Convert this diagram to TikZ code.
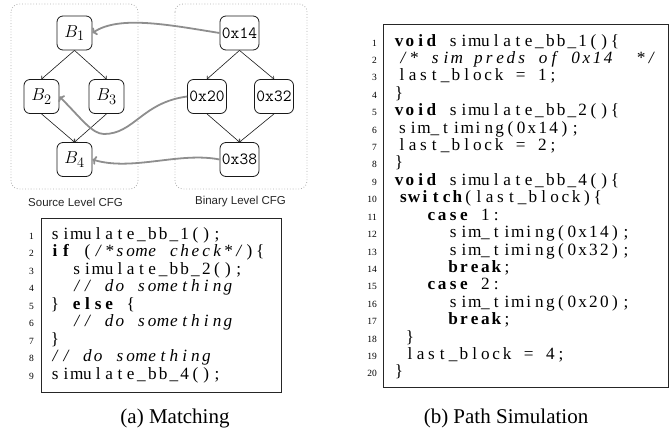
\documentclass[tikz,border=0pt]{standalone}
\usepackage[no-math]{fontspec}
\setmainfont{Liberation Serif}
\newfontfamily\cfgsans{Liberation Sans}
\usetikzlibrary{arrows.meta}

\definecolor{mapgray}{RGB}{142,142,142}
\definecolor{boxgray}{RGB}{175,175,175}

% fixed-column code setting: every character gets a box of width \colw
\newlength\colw
\setlength\colw{10.8pt}
\makeatletter
\def\cc#1{\cc@loop#1\cc@stop}
\def\cc@loop#1{\ifx#1\cc@stop\else\hbox to\colw{\hss#1\hss}\expandafter\cc@loop\fi}
\def\cc@stop{\cc@stop@mark}
\makeatother
\newcommand\kw[1]{{\bfseries\cc{#1}}}
\newcommand\cm[1]{{\itshape\cc{#1}}}

\begin{document}
\begin{tikzpicture}[x=1pt,y=-1pt,
  blk/.style={draw=black!90, line width=0.8pt, rounded corners=6pt,
    minimum width=35pt, minimum height=34pt, inner sep=0pt,
    font=\fontsize{19}{22}\selectfont},
  hexblk/.style={blk, minimum width=39pt, font=\fontsize{17}{20}\selectfont\ttfamily},
  flow/.style={-{To[length=2.6pt,width=5pt]}, line width=0.6pt, draw=black!90},
  map/.style={-{To[length=4pt,width=9pt]}, line width=1.8pt, draw=mapgray},
  region/.style={draw=boxgray, dotted, line width=0.8pt, rounded corners=8pt},
  cfglabel/.style={font=\fontsize{11.5}{13}\selectfont\cfgsans, text=black!85, inner sep=0pt},
  codeln/.style={anchor=base west, inner sep=0pt, font=\fontsize{17.2}{19}\selectfont},
  lnum/.style={anchor=base east, inner sep=0pt, font=\fontsize{9.5}{11}\selectfont},
  codebox/.style={draw=black!85, line width=0.9pt},
  subcap/.style={font=\fontsize{21}{24}\selectfont, inner sep=0pt}
]
\useasboundingbox (0,0) rectangle (672,432);

% ---------- control-flow graphs ----------
\draw[region] (11,4) rectangle (138,189);
\draw[region] (175,4) rectangle (307,189);

\node[blk] (b1) at (74.5,33) {$B_1$};
\node[blk] (b2) at (41.5,96.5) {$B_2$};
\node[blk] (b3) at (106.5,96.5) {$B_3$};
\node[blk] (b4) at (74.5,159.5) {$B_4$};

\node[hexblk] (h14) at (239.5,33) {0x14};
\node[hexblk] (h20) at (207,96.5) {0x20};
\node[hexblk] (h32) at (274,96.5) {0x32};
\node[hexblk] (h38) at (239.5,159.5) {0x38};

\draw[flow] (b1.south) -- (b2.north);
\draw[flow] (b1.south) -- (b3.north);
\draw[flow] (b2.south) -- (b4.north);
\draw[flow] (b3.south) -- (b4.north);

\draw[flow] (h14.south) -- (h20.north);
\draw[flow] (h14.south) -- (h32.north);
\draw[flow] (h20.south) -- (h38.north);
\draw[flow] (h32.south) -- (h38.north);

% binary blocks mapped onto source blocks
\coordinate (dip) at (104,134);
\draw[map] (h14.west) .. controls +(-50,-8) and +(27,-18) .. (b1.east);
\draw[map] (h20.west) .. controls +(-45,6) and +(30,0) .. (dip)
           .. controls +(-12,0) and +(22,22) .. (b2.east);
\draw[map] (h38.west) .. controls +(-40,-8) and +(40,12) .. (b4.east);

\node[cfglabel] (srclbl) at (75.5,202) {Source Level CFG};
\node[cfglabel] (binlbl) at (240.5,202) {Binary Level CFG};

% ---------- source listing ----------
\draw[codebox] (41,218) rectangle (281,392);
\foreach \n [evaluate=\n as \y using {239+17.5*(\n-1)}] in {1,...,9}
  \node[lnum] (ln\n) at (34,\y) {\n};

\node[codeln] (l1) at (49.5,239)   {\cc{simulate\_bb\_1();}};
\node[codeln] (l2) at (49.5,256.5) {\kw{if}\cc{~(}\cm{/*some~check*/}\cc{)\{}};
\node[codeln] (l3) at (49.5,274)   {\cc{~~simulate\_bb\_2();}};
\node[codeln] (l4) at (49.5,291.5) {\cc{~~}\cm{//~do~something}};
\node[codeln] (l5) at (49.5,309)   {\cc{\}~}\kw{else}\cc{~\{}};
\node[codeln] (l6) at (49.5,326.5) {\cc{~~}\cm{//~do~something}};
\node[codeln] (l7) at (49.5,344)   {\cc{\}}};
\node[codeln] (l8) at (49.5,361.5) {\cm{//~do~something}};
\node[codeln] (l9) at (49.5,379)   {\cc{simulate\_bb\_4();}};

\node[subcap] (capa) at (175,418) {(a) Matching};

% ---------- simulation listing ----------
\draw[codebox] (383,24) rectangle (668,387);
\foreach \n [evaluate=\n as \y using {46+17.42*(\n-1)}] in {1,...,20}
  \node[lnum] (rn\n) at (377,\y) {\n};

\node[codeln] (r1)  at (393.5,46)     {\kw{void}\cc{~simulate\_bb\_1()\{}};
\node[codeln] (r2)  at (386.5,63.42)  {\cc{~}\cm{/*~sim~preds~of~0x14~~*/}};
\node[codeln] (r3)  at (385.5,80.84)  {\cc{~last\_block~=~1;}};
\node[codeln] (r4)  at (393.5,98.26)  {\cc{\}}};
\node[codeln] (r5)  at (393.5,115.68) {\kw{void}\cc{~simulate\_bb\_2()\{}};
\node[codeln] (r6)  at (386,133.1)    {\cc{~sim\_timing(0x14);}};
\node[codeln] (r7)  at (385.5,150.52) {\cc{~last\_block~=~2;}};
\node[codeln] (r8)  at (393.5,167.94) {\cc{\}}};
\node[codeln] (r9)  at (393.5,185.36) {\kw{void}\cc{~simulate\_bb\_4()\{}};
\node[codeln] (r10) at (387,202.78)   {\cc{~}\kw{switch}\cc{(last\_block)\{}};
\node[codeln] (r11) at (393.5,220.2)  {\cc{~~~}\kw{case}\cc{~1:}};
\node[codeln] (r12) at (393.5,237.62) {\cc{~~~~~sim\_timing(0x14);}};
\node[codeln] (r13) at (393.5,255.04) {\cc{~~~~~sim\_timing(0x32);}};
\node[codeln] (r14) at (393.5,272.46) {\cc{~~~~~}\kw{break}\cc{;}};
\node[codeln] (r15) at (393.5,289.88) {\cc{~~~}\kw{case}\cc{~2:}};
\node[codeln] (r16) at (393.5,307.3)  {\cc{~~~~~sim\_timing(0x20);}};
\node[codeln] (r17) at (393.5,324.72) {\cc{~~~~~}\kw{break}\cc{;}};
\node[codeln] (r18) at (393.5,342.14) {\cc{~\}}};
\node[codeln] (r19) at (393.5,359.56) {\cc{~last\_block~=~4;}};
\node[codeln] (r20) at (393.5,376.98) {\cc{\}}};

\node[subcap] (capb) at (506,418) {(b) Path Simulation};
\end{tikzpicture}
\end{document}
